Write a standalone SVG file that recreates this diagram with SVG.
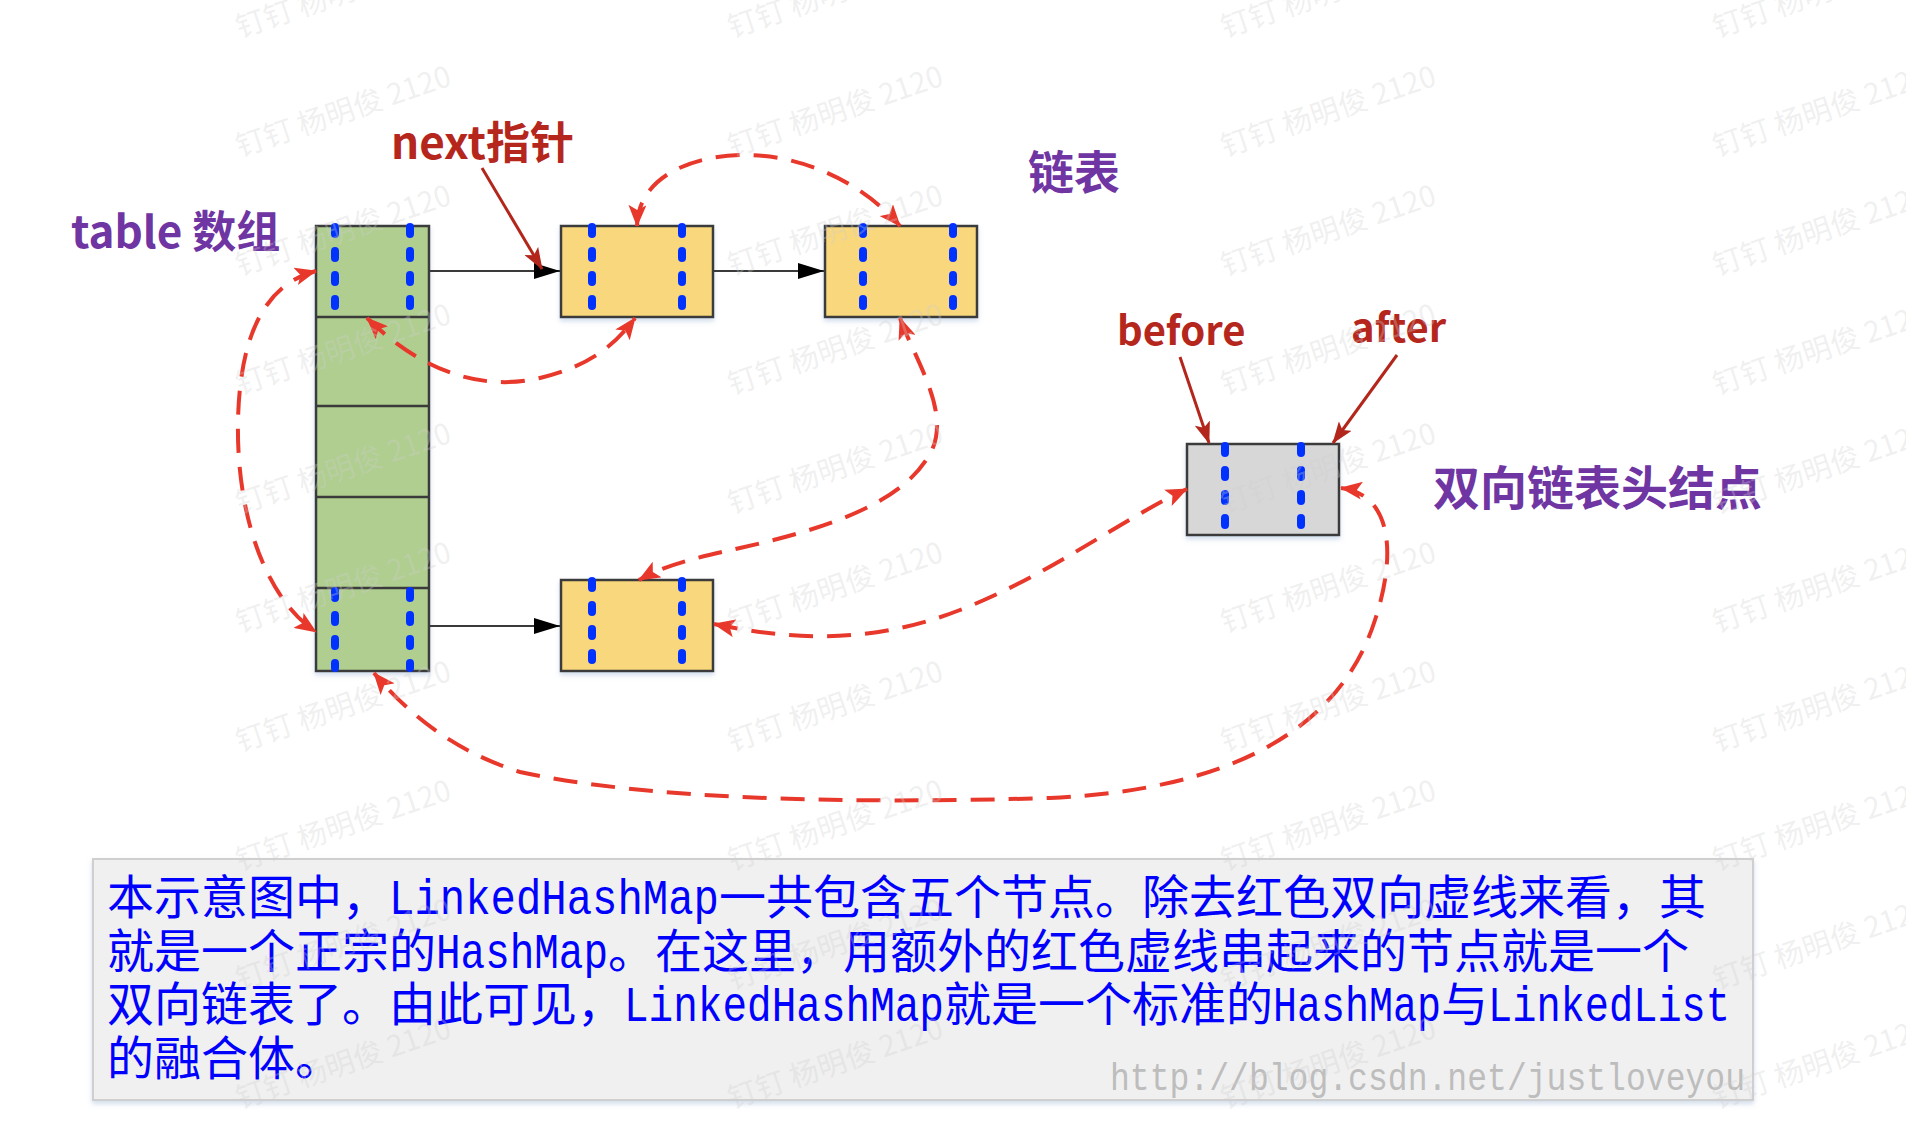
<svg xmlns="http://www.w3.org/2000/svg" xmlns:xlink="http://www.w3.org/1999/xlink" width="1906" height="1126" viewBox="0 0 1906 1126">
  <style>
    .cell { stroke: #3a3a3a; stroke-width: 2.5; }
    .green { fill: #afce8f; }
    .yellow { fill: #f9d77b; }
    .grey { fill: #d7d7d7; }
    .slot { stroke: #0630ff; stroke-width: 8; stroke-linecap: round; stroke-dasharray: 7 17; fill: none; }
    .next { stroke: #3a3a3a; stroke-width: 2; fill: none; marker-end: url(#arrowBlack); }
    .ptr { stroke: #b3261c; stroke-width: 3; fill: none; marker-end: url(#arrowPtr); }
    .link { stroke: #e8382b; stroke-width: 4; fill: none; stroke-dasharray: 24 14; marker-start: url(#arrowRed); marker-end: url(#arrowRed); }
    .lbl { font-family: "Noto Sans CJK SC", "Noto Sans", sans-serif; font-weight: bold; }
    .purple { fill: #6f35a3; }
    .dred { fill: #b5271d; }
    .note { font-family: "Noto Sans CJK SC", sans-serif; font-size: 47px; fill: #0000ff; }
    .mono { font-family: "Liberation Mono", monospace; font-size: 50px; fill: #0000ff; }
    .url { font-family: "Liberation Mono", monospace; font-size: 38px; fill: #bdbdbd; }
    .wm { font-family: "Noto Sans CJK SC", sans-serif; font-size: 29px; fill: #cfcfcf; fill-opacity: 0.32; }
  </style>
  <defs>
    <marker id="arrowBlack" viewBox="0 0 26 16" refX="26" refY="8" markerWidth="26" markerHeight="16" markerUnits="userSpaceOnUse" orient="auto">
      <path d="M0,0 L26,8 L0,16 z" fill="#000"/>
    </marker>
    <marker id="arrowRed" viewBox="0 0 22 18" refX="21" refY="9" markerWidth="22" markerHeight="18" markerUnits="userSpaceOnUse" orient="auto-start-reverse">
      <path d="M0,0 L22,9 L0,18 L5,9 z" fill="#e8382b"/>
    </marker>
    <marker id="arrowPtr" viewBox="0 0 22 16" refX="21" refY="8" markerWidth="22" markerHeight="16" markerUnits="userSpaceOnUse" orient="auto">
      <path d="M0,0 L22,8 L0,16 L5,8 z" fill="#b3261c"/>
    </marker>
    <filter id="shadow" x="-10%" y="-10%" width="120%" height="130%">
      <feDropShadow dx="0" dy="3" stdDeviation="2.5" flood-color="#7f9cc8" flood-opacity="0.35"/>
    </filter>
    <text id="wm" class="wm" textLength="225">钉钉 杨明俊 2120</text>
  </defs>

  <rect width="1906" height="1126" fill="#ffffff"/>

  <!-- hash table: five buckets, first and last hold entries -->
  <g id="table-array" filter="url(#shadow)">
    <rect class="cell green" x="316" y="226" width="113" height="445"/>
    <line class="cell" x1="316" y1="317" x2="429" y2="317"/>
    <line class="cell" x1="316" y1="406" x2="429" y2="406"/>
    <line class="cell" x1="316" y1="497" x2="429" y2="497"/>
    <line class="cell" x1="316" y1="588" x2="429" y2="588"/>
    <line class="slot" x1="335" y1="227" x2="335" y2="306"/>
    <line class="slot" x1="410" y1="227" x2="410" y2="306"/>
    <line class="slot" x1="335" y1="591" x2="335" y2="668"/>
    <line class="slot" x1="410" y1="591" x2="410" y2="668"/>
  </g>

  <g id="entry-1" filter="url(#shadow)">
    <rect class="cell yellow" x="561" y="226" width="152" height="91"/>
    <line class="slot" x1="592" y1="227" x2="592" y2="306"/>
    <line class="slot" x1="682" y1="227" x2="682" y2="306"/>
  </g>

  <g id="entry-2" filter="url(#shadow)">
    <rect class="cell yellow" x="825" y="226" width="152" height="91"/>
    <line class="slot" x1="863" y1="227" x2="863" y2="306"/>
    <line class="slot" x1="953" y1="227" x2="953" y2="306"/>
  </g>

  <g id="entry-3" filter="url(#shadow)">
    <rect class="cell yellow" x="561" y="580" width="152" height="91"/>
    <line class="slot" x1="592" y1="581" x2="592" y2="660"/>
    <line class="slot" x1="682" y1="581" x2="682" y2="660"/>
  </g>

  <g id="header-node" filter="url(#shadow)">
    <rect class="cell grey" x="1187" y="444" width="152" height="91"/>
    <line class="slot" x1="1225" y1="446" x2="1225" y2="525"/>
    <line class="slot" x1="1301" y1="446" x2="1301" y2="525"/>
  </g>

  <g id="connectors">
    <!-- next references (black) -->
    <line class="next" x1="429" y1="271" x2="560" y2="271"/>
    <line class="next" x1="713" y1="271" x2="824" y2="271"/>
    <line class="next" x1="429" y1="626" x2="560" y2="626"/>
    <!-- label pointers -->
    <line class="ptr" x1="482" y1="168" x2="542" y2="269"/>
    <line class="ptr" x1="1180" y1="357" x2="1209" y2="443"/>
    <line class="ptr" x1="1397" y1="355" x2="1333" y2="443"/>
    <!-- doubly linked before/after chain (red dashed) -->
    <path class="link" d="M316,271 C262,285 240,340 238,420 C236,520 268,600 316,632"/>
    <path class="link" d="M367,318 C420,370 480,392 540,378 C590,366 615,345 635,318"/>
    <path class="link" d="M637,226 C638,178 690,155 745,155 C800,155 860,180 900,226"/>
    <path class="link" d="M900,318 C915,360 950,410 932,450 C905,505 820,530 740,548 C695,558 665,565 639,580"/>
    <path class="link" d="M714,624 C790,640 870,645 960,610 C1050,575 1120,520 1187,489"/>
    <path class="link" d="M1341,488 C1395,495 1395,560 1375,620 C1340,730 1230,790 1050,798 C850,804 650,800 520,772 C450,750 405,710 374,673"/>
  </g>

  <g id="labels">
    <text class="lbl purple" x="71" y="248" font-size="44">table 数组</text>
    <text class="lbl dred" x="391" y="159" font-size="44">next指针</text>
    <text class="lbl purple" x="1028" y="189" font-size="46">链表</text>
    <text class="lbl dred" x="1117" y="345" font-size="40">before</text>
    <text class="lbl dred" x="1351" y="342" font-size="40">after</text>
    <text class="lbl purple" x="1433" y="505" font-size="47">双向链表头结点</text>
  </g>

  <g id="note">
    <rect x="93" y="859" width="1660" height="241" fill="#f0f0f0" stroke="#cfcfcf" stroke-width="2" filter="url(#shadow)"/>
    <text class="note" x="107" y="914">本示意图中，</text>
    <text class="mono" x="389" y="914" textLength="330" lengthAdjust="spacingAndGlyphs">LinkedHashMap</text>
    <text class="note" x="719" y="914">一共包含五个节点。除去红色双向虚线来看，其</text>

    <text class="note" x="107" y="968">就是一个正宗的</text>
    <text class="mono" x="436" y="968" textLength="172" lengthAdjust="spacingAndGlyphs">HashMap</text>
    <text class="note" x="608" y="968">。在这里，用额外的红色虚线串起来的节点就是一个</text>

    <text class="note" x="107" y="1021">双向链表了。由此可见，</text>
    <text class="mono" x="624" y="1021" textLength="320" lengthAdjust="spacingAndGlyphs">LinkedHashMap</text>
    <text class="note" x="944" y="1021">就是一个标准的</text>
    <text class="mono" x="1273" y="1021" textLength="168" lengthAdjust="spacingAndGlyphs">HashMap</text>
    <text class="note" x="1441" y="1021">与</text>
    <text class="mono" x="1488" y="1021" textLength="242" lengthAdjust="spacingAndGlyphs">LinkedList</text>

    <text class="note" x="107" y="1075">的融合体。</text>
    <text class="url" x="1110" y="1090" textLength="635" lengthAdjust="spacingAndGlyphs">http://blog.csdn.net/justloveyou</text>
  </g>

  <!-- tiled watermark over the whole sheet -->
  <g id="watermark">
    <use xlink:href="#wm" transform="translate(240,38) rotate(-18.7)"/>
    <use xlink:href="#wm" transform="translate(240,157) rotate(-18.7)"/>
    <use xlink:href="#wm" transform="translate(240,276) rotate(-18.7)"/>
    <use xlink:href="#wm" transform="translate(240,395) rotate(-18.7)"/>
    <use xlink:href="#wm" transform="translate(240,514) rotate(-18.7)"/>
    <use xlink:href="#wm" transform="translate(240,633) rotate(-18.7)"/>
    <use xlink:href="#wm" transform="translate(240,752) rotate(-18.7)"/>
    <use xlink:href="#wm" transform="translate(240,871) rotate(-18.7)"/>
    <use xlink:href="#wm" transform="translate(240,990) rotate(-18.7)"/>
    <use xlink:href="#wm" transform="translate(240,1109) rotate(-18.7)"/>
    <use xlink:href="#wm" transform="translate(732,38) rotate(-18.7)"/>
    <use xlink:href="#wm" transform="translate(732,157) rotate(-18.7)"/>
    <use xlink:href="#wm" transform="translate(732,276) rotate(-18.7)"/>
    <use xlink:href="#wm" transform="translate(732,395) rotate(-18.7)"/>
    <use xlink:href="#wm" transform="translate(732,514) rotate(-18.7)"/>
    <use xlink:href="#wm" transform="translate(732,633) rotate(-18.7)"/>
    <use xlink:href="#wm" transform="translate(732,752) rotate(-18.7)"/>
    <use xlink:href="#wm" transform="translate(732,871) rotate(-18.7)"/>
    <use xlink:href="#wm" transform="translate(732,990) rotate(-18.7)"/>
    <use xlink:href="#wm" transform="translate(732,1109) rotate(-18.7)"/>
    <use xlink:href="#wm" transform="translate(1225,38) rotate(-18.7)"/>
    <use xlink:href="#wm" transform="translate(1225,157) rotate(-18.7)"/>
    <use xlink:href="#wm" transform="translate(1225,276) rotate(-18.7)"/>
    <use xlink:href="#wm" transform="translate(1225,395) rotate(-18.7)"/>
    <use xlink:href="#wm" transform="translate(1225,514) rotate(-18.7)"/>
    <use xlink:href="#wm" transform="translate(1225,633) rotate(-18.7)"/>
    <use xlink:href="#wm" transform="translate(1225,752) rotate(-18.7)"/>
    <use xlink:href="#wm" transform="translate(1225,871) rotate(-18.7)"/>
    <use xlink:href="#wm" transform="translate(1225,990) rotate(-18.7)"/>
    <use xlink:href="#wm" transform="translate(1225,1109) rotate(-18.7)"/>
    <use xlink:href="#wm" transform="translate(1717,38) rotate(-18.7)"/>
    <use xlink:href="#wm" transform="translate(1717,157) rotate(-18.7)"/>
    <use xlink:href="#wm" transform="translate(1717,276) rotate(-18.7)"/>
    <use xlink:href="#wm" transform="translate(1717,395) rotate(-18.7)"/>
    <use xlink:href="#wm" transform="translate(1717,514) rotate(-18.7)"/>
    <use xlink:href="#wm" transform="translate(1717,633) rotate(-18.7)"/>
    <use xlink:href="#wm" transform="translate(1717,752) rotate(-18.7)"/>
    <use xlink:href="#wm" transform="translate(1717,871) rotate(-18.7)"/>
    <use xlink:href="#wm" transform="translate(1717,990) rotate(-18.7)"/>
    <use xlink:href="#wm" transform="translate(1717,1109) rotate(-18.7)"/>
  </g>
</svg>
